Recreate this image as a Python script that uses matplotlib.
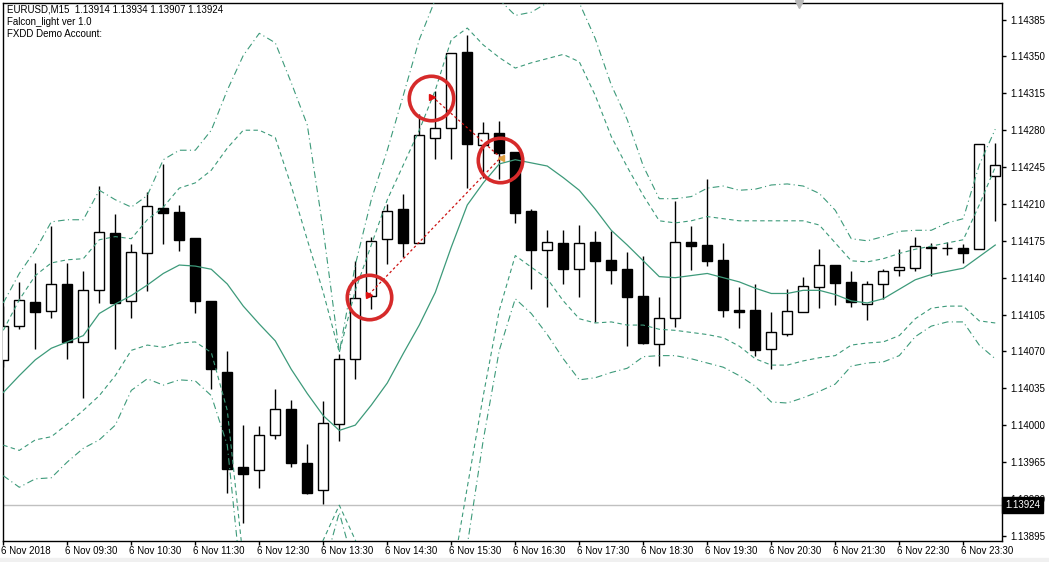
import matplotlib
matplotlib.use('Agg')
import matplotlib.pyplot as plt
import matplotlib.transforms as mtransforms
import numpy as np

plt.rcParams['font.family'] = ['Liberation Sans', 'DejaVu Sans']

# EURUSD M15 candles, 6 Nov 2018 from 08:30
opens = [1.14062, 1.14094, 1.14117, 1.14108, 1.14134, 1.14079, 1.14128, 1.14182, 1.14118, 1.14163,
         1.14206, 1.14202, 1.14178, 1.14118, 1.14050, 1.13960, 1.13957, 1.13991, 1.14015, 1.13964,
         1.13938, 1.14001, 1.14063, 1.14123, 1.14177, 1.14205, 1.14173, 1.14273, 1.14282, 1.14354,
         1.14266, 1.14277, 1.14259, 1.14203, 1.14166, 1.14173, 1.14148, 1.14174, 1.14157, 1.14148,
         1.14123, 1.14077, 1.14102, 1.14174, 1.14171, 1.14157, 1.14109, 1.14109, 1.14072, 1.14087,
         1.14107, 1.14131, 1.14152, 1.14136, 1.14115, 1.14134, 1.14147, 1.14149, 1.14169, 1.14168,
         1.14168, 1.14167, 1.14237]
highs = [1.14113, 1.14136, 1.14154, 1.14189, 1.14154, 1.14146, 1.14227, 1.14200, 1.14172, 1.14221,
         1.14248, 1.14209, 1.14178, 1.14118, 1.14070, 1.14000, 1.13999, 1.14034, 1.14024, 1.13982,
         1.14023, 1.14068, 1.14156, 1.14179, 1.14210, 1.14219, 1.14295, 1.14317, 1.14353, 1.14370,
         1.14288, 1.14289, 1.14259, 1.14205, 1.14185, 1.14185, 1.14190, 1.14184, 1.14184, 1.14164,
         1.14161, 1.14122, 1.14213, 1.14189, 1.14234, 1.14173, 1.14131, 1.14134, 1.14107, 1.14129,
         1.14141, 1.14167, 1.14152, 1.14146, 1.14137, 1.14148, 1.14167, 1.14179, 1.14173, 1.14174,
         1.14172, 1.14267, 1.14268]
lows = [1.14055, 1.14091, 1.14072, 1.14102, 1.14063, 1.14026, 1.14116, 1.14072, 1.14102, 1.14127,
        1.14172, 1.14165, 1.14106, 1.14034, 1.13936, 1.13907, 1.13940, 1.13987, 1.13960, 1.13935,
        1.13925, 1.13985, 1.14044, 1.14110, 1.14153, 1.14160, 1.14173, 1.14253, 1.14253, 1.14225,
        1.14235, 1.14234, 1.14192, 1.14129, 1.14112, 1.14134, 1.14122, 1.14098, 1.14134, 1.14075,
        1.14077, 1.14056, 1.14093, 1.14147, 1.14151, 1.14103, 1.14092, 1.14066, 1.14053, 1.14085,
        1.14107, 1.14111, 1.14114, 1.14112, 1.14100, 1.14120, 1.14142, 1.14146, 1.14142, 1.14162,
        1.14154, 1.14167, 1.14194]
closes = [1.14094, 1.14119, 1.14107, 1.14134, 1.14079, 1.14128, 1.14183, 1.14116, 1.14164, 1.14208,
          1.14201, 1.14176, 1.14118, 1.14053, 1.13958, 1.13954, 1.13991, 1.14015, 1.13964, 1.13936,
          1.14002, 1.14063, 1.14121, 1.14175, 1.14203, 1.14173, 1.14275, 1.14282, 1.14353, 1.14267,
          1.14277, 1.14258, 1.14201, 1.14166, 1.14174, 1.14148, 1.14173, 1.14156, 1.14147, 1.14122,
          1.14078, 1.14102, 1.14174, 1.14170, 1.14156, 1.14109, 1.14107, 1.14071, 1.14088, 1.14108,
          1.14132, 1.14152, 1.14135, 1.14117, 1.14134, 1.14146, 1.14150, 1.14170, 1.14168, 1.14168,
          1.14163, 1.14267, 1.14247]

# Falcon_light bands
ma_line = [1.14031, 1.14047, 1.14062, 1.14073, 1.14079, 1.14085, 1.14106, 1.14115, 1.14123, 1.14133,
           1.14144, 1.14152, 1.14151, 1.14148, 1.14134, 1.14113, 1.14096, 1.14080, 1.14053, 1.14030,
           1.14009, 1.13995, 1.14000, 1.14019, 1.14040, 1.14068, 1.14095, 1.14126, 1.14169, 1.14209,
           1.14230, 1.14248, 1.14252, 1.14249, 1.14246, 1.14235, 1.14223, 1.14205, 1.14185, 1.14171,
           1.14156, 1.14141, 1.14140, 1.14142, 1.14144, 1.14140, 1.14136, 1.14130, 1.14125, 1.14125,
           1.14128, 1.14128, 1.14124, 1.14118, 1.14116, 1.14120, 1.14129, 1.14138, 1.14143, 1.14146,
           1.14149, 1.14160, 1.14171]
upper_outer = [1.14116, 1.14144, 1.14166, 1.14193, 1.14195, 1.14195, 1.14223, 1.14214, 1.14207, 1.14218,
               1.14252, 1.14261, 1.14261, 1.14280, 1.14318, 1.14351, 1.14372, 1.14363, 1.14325, 1.14285,
               1.14185, 1.14069, 1.14152, 1.14214, 1.14261, 1.14313, 1.14366, 1.14404, 1.14422, 1.14437,
               1.14427, 1.14404, 1.14389, 1.14392, 1.14401, 1.14411, 1.14401, 1.14367, 1.14323, 1.14290,
               1.14246, 1.14215, 1.14215, 1.14217, 1.14225, 1.14227, 1.14223, 1.14224, 1.14228, 1.14229,
               1.14227, 1.14220, 1.14204, 1.14177, 1.14175, 1.14179, 1.14184, 1.14185, 1.14185, 1.14192,
               1.14196, 1.14247, 1.14281]
upper_inner = [1.14090, 1.14119, 1.14142, 1.14154, 1.14157, 1.14158, 1.14176, 1.14179, 1.14177, 1.14195,
               1.14207, 1.14225, 1.14230, 1.14242, 1.14263, 1.14280, 1.14280, 1.14273, 1.14227, 1.14176,
               1.14126, 1.14069, 1.14128, 1.14171, 1.14214, 1.14247, 1.14280, 1.14318, 1.14366, 1.14377,
               1.14361, 1.14349, 1.14339, 1.14344, 1.14348, 1.14352, 1.14345, 1.14313, 1.14274, 1.14245,
               1.14218, 1.14194, 1.14192, 1.14194, 1.14198, 1.14196, 1.14194, 1.14194, 1.14194, 1.14194,
               1.14194, 1.14190, 1.14173, 1.14156, 1.14155, 1.14158, 1.14163, 1.14167, 1.14170, 1.14173,
               1.14176, 1.14209, 1.14245]
lower_inner = [1.13981, 1.13976, 1.13986, 1.13989, 1.14001, 1.14014, 1.14028, 1.14047, 1.14071, 1.14076,
               1.14074, 1.14078, 1.14079, 1.14069, 1.14014, 1.13872, 1.13824, 1.13813, 1.13833, 1.13852,
               1.13891, 1.13924, 1.13891, 1.13843, 1.13814, 1.13795, 1.13795, 1.13814, 1.13852, 1.13941,
               1.14028, 1.14109, 1.14161, 1.14150, 1.14139, 1.14118, 1.14101, 1.14097, 1.14098, 1.14095,
               1.14095, 1.14091, 1.14090, 1.14088, 1.14086, 1.14083, 1.14075, 1.14063, 1.14057, 1.14057,
               1.14061, 1.14064, 1.14066, 1.14076, 1.14078, 1.14079, 1.14085, 1.14101, 1.14111, 1.14113,
               1.14113, 1.14099, 1.14097]
lower_outer = [1.13952, 1.13941, 1.13949, 1.13950, 1.13965, 1.13978, 1.13986, 1.14000, 1.14033, 1.14044,
               1.14038, 1.14043, 1.14042, 1.14028, 1.13981, 1.13833, 1.13776, 1.13757, 1.13776, 1.13805,
               1.13862, 1.13917, 1.13862, 1.13795, 1.13757, 1.13738, 1.13738, 1.13757, 1.13795, 1.13886,
               1.13986, 1.14071, 1.14120, 1.14106, 1.14086, 1.14063, 1.14043, 1.14045, 1.14050, 1.14054,
               1.14065, 1.14066, 1.14066, 1.14063, 1.14059, 1.14055, 1.14047, 1.14037, 1.14022, 1.14021,
               1.14026, 1.14032, 1.14039, 1.14056, 1.14059, 1.14060, 1.14066, 1.14084, 1.14094, 1.14098,
               1.14098, 1.14076, 1.14063]

# signal points (bar position, price)
signal_x = [22.85, 26.8, 31.09]
signal_y = [1.14124, 1.14312, 1.14254]
circle_x = [22.83, 26.73, 31.04]
circle_y = [1.14122, 1.14311, 1.14252]

tick_pos = list(range(0, 61, 4))
tick_labels = ['6 Nov 2018', '6 Nov 09:30', '6 Nov 10:30', '6 Nov 11:30', '6 Nov 12:30',
               '6 Nov 13:30', '6 Nov 14:30', '6 Nov 15:30', '6 Nov 16:30', '6 Nov 17:30',
               '6 Nov 18:30', '6 Nov 19:30', '6 Nov 20:30', '6 Nov 21:30', '6 Nov 22:30',
               '6 Nov 23:30']
price_ticks = [1.13895, 1.13930, 1.13965, 1.14000, 1.14035, 1.14070, 1.14105, 1.14140,
               1.14175, 1.14210, 1.14245, 1.14280, 1.14315, 1.14350, 1.14385]
bid = 1.13924
header = ['EURUSD,M15  1.13914 1.13934 1.13907 1.13924', 'Falcon_light ver 1.0', 'FXDD Demo Account:']

o = np.array(opens); h = np.array(highs); l = np.array(lows); c = np.array(closes)
x = np.arange(len(o))

fig = plt.figure(figsize=(10.49, 5.62), dpi=100)
ax = fig.add_axes([0.00257, 0.03737, 0.9526, 0.9577])

# wicks
ax.vlines(x, l, h, color='black', lw=1, zorder=2)
# bodies
up = c >= o
bottom = np.minimum(o, c)
height = np.maximum(np.abs(c - o), 0.000005)
ax.bar(x[up], height[up], bottom=bottom[up], width=0.62, color='white', edgecolor='black', lw=1, zorder=3)
ax.bar(x[~up], height[~up], bottom=bottom[~up], width=0.62, color='black', edgecolor='black', lw=1, zorder=3)

band_col = '#3d9a7a'
ax.plot(x, ma_line, color=band_col, lw=0.9, zorder=4)
ax.plot(x, upper_inner, color=band_col, lw=0.8, ls=(0, (4, 3)), zorder=4)
ax.plot(x, lower_inner, color=band_col, lw=0.8, ls=(0, (4, 3)), zorder=4)
ax.plot(x, upper_outer, color=band_col, lw=0.8, ls=(0, (6, 3, 1, 3)), zorder=4)
ax.plot(x, lower_outer, color=band_col, lw=0.8, ls=(0, (6, 3, 1, 3)), zorder=4)

# signal links
ax.plot([signal_x[0], signal_x[2]], [signal_y[0], signal_y[2]], color='#cc1111', lw=0.9, ls=(0, (2, 2)), zorder=5)
ax.plot([signal_x[1], signal_x[2]], [signal_y[1], signal_y[2]], color='#cc1111', lw=0.9, ls=(0, (2, 2)), zorder=5)
ax.plot(signal_x[:2], signal_y[:2], ls='none', marker='>', ms=5, color='#e01010', zorder=6)
ax.plot(signal_x[2:], signal_y[2:], ls='none', marker='<', ms=5, color='#e0a040', zorder=6)
ax.plot(circle_x, circle_y, ls='none', marker='o', ms=32, mfc='none', mec='#d62a2a', mew=2.6, zorder=7)

ax.axhline(bid, color='#c0c0c0', lw=1, zorder=1)

ax.set_xlim(-0.0375, 62.42)
ax.set_ylim(1.13890, 1.14401)

ax.yaxis.tick_right()
ax.set_yticks(price_ticks)
ax.set_yticklabels(['%.5f' % v for v in price_ticks])
ax.tick_params(axis='y', direction='out', length=3, width=1, labelsize=7, pad=3)
ax.set_xticks(tick_pos)
ax.set_xticklabels(tick_labels, ha='left')
ax.tick_params(axis='x', direction='out', length=3, width=1, labelsize=7, pad=0.5)
offset = mtransforms.ScaledTranslation(-2 / 100, 0, fig.dpi_scale_trans)
for lab in ax.get_xticklabels():
    lab.set_transform(lab.get_transform() + offset)

for s in ax.spines.values():
    s.set_linewidth(1)
    s.set_color('black')

# bid price box
trans = mtransforms.blended_transform_factory(ax.transAxes, ax.transData)
ax.text(1.003, bid, '1.13924', transform=trans, ha='left', va='center', fontsize=7, color='white',
        bbox=dict(boxstyle='square,pad=0.3', fc='black', ec='black'), zorder=10, clip_on=False)

# chart shift marker
ax.plot([0.797], [0.997], transform=ax.transAxes, marker='v', ms=6, color='#b8b8b8', clip_on=False, zorder=8)

for k, t in enumerate(header):
    fig.text(7 / 1049, 1 - (10 + 12 * k) / 562, t, fontsize=7, va='center', ha='left')

fig.patches.append(plt.Rectangle((0, 0), 1, 4 / 562, transform=fig.transFigure, color='#f0f0f0', zorder=0))

fig.savefig('out.png', dpi=100)
